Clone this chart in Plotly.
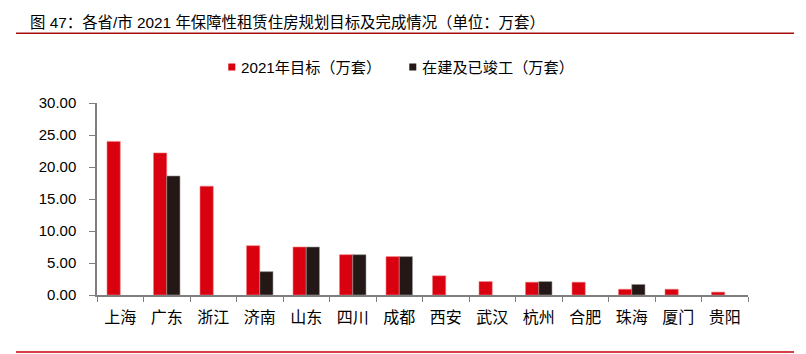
import plotly.graph_objects as go

categories = ["上海", "广东", "浙江", "济南", "山东", "四川", "成都", "西安", "武汉", "杭州", "合肥", "珠海", "厦门", "贵阳"]
target_2021 = [24.0, 22.2, 17.0, 7.7, 7.5, 6.3, 6.0, 3.0, 2.1, 2.0, 2.0, 0.9, 0.9, 0.45]
built_done = [None, 18.6, None, 3.65, 7.5, 6.3, 6.0, None, None, 2.1, None, 1.65, None, None]
y_ticks = [0, 5, 10, 15, 20, 25, 30]
y_tick_labels = ["0.00", "5.00", "10.00", "15.00", "20.00", "25.00", "30.00"]
name_target = "2021年目标（万套）"
name_built = "在建及已竣工（万套）"
title_text = "图 47：各省/市 2021 年保障性租赁住房规划目标及完成情况（单位：万套）"

RED = "#d9000f"
BLACK = "#231815"
AXIS = "#7f7f7f"
FONT = "Liberation Sans, Arial, Noto Sans CJK SC, sans-serif"

W, H = 806, 354
L, R, T, B = 97, 58, 103, 59
PW, PH = W - L - R, H - T - B


def px(x):
    return (x - L) / PW


def py(y):
    return (H - B - y) / PH


fig = go.Figure()
fig.add_trace(go.Bar(x=categories, y=target_2021, name=name_target,
                     marker=dict(color=RED, line=dict(width=0.6, color="#f08080"))))
fig.add_trace(go.Bar(x=categories, y=built_done, name=name_built,
                     marker=dict(color=BLACK, line=dict(width=0.6, color="#9a9a9a"))))

shapes = [
    dict(type="line", xref="paper", yref="paper", x0=px(16), x1=px(794), y0=py(33.3), y1=py(33.3),
         line=dict(color="#a50f0f", width=1.5)),
    dict(type="line", xref="paper", yref="paper", x0=px(16), x1=px(794), y0=py(352), y1=py(352),
         line=dict(color="#c8000a", width=1.5)),
    dict(type="rect", xref="paper", yref="paper", x0=px(228.3), x1=px(235.3), y0=py(70.5), y1=py(63.5),
         fillcolor=RED, line=dict(width=0)),
    dict(type="rect", xref="paper", yref="paper", x0=px(409.3), x1=px(416.3), y0=py(70.5), y1=py(63.5),
         fillcolor=BLACK, line=dict(width=0)),
]

annotations = [
    dict(text=title_text, xref="paper", yref="paper", x=px(27.5), y=py(22), xanchor="left", yanchor="middle",
         showarrow=False, font=dict(size=15.4, color="#000000", family=FONT)),
    dict(text=name_target, xref="paper", yref="paper", x=px(238.5), y=py(68), xanchor="left", yanchor="middle",
         showarrow=False, font=dict(size=15.2, color="#000000", family=FONT)),
    dict(text=name_built, xref="paper", yref="paper", x=px(419.5), y=py(68), xanchor="left", yanchor="middle",
         showarrow=False, font=dict(size=15.2, color="#000000", family=FONT)),
]

fig.update_layout(
    width=W, height=H,
    margin=dict(l=L, r=R, t=T, b=B, pad=0),
    paper_bgcolor="white", plot_bgcolor="white",
    barmode="group", bargap=0.43, bargroupgap=0,
    showlegend=False,
    font=dict(family=FONT, size=15, color="#000000"),
    shapes=shapes,
    annotations=annotations,
)
fig.update_xaxes(
    type="category", showgrid=False, showline=True, linecolor=AXIS, linewidth=1.5,
    ticks="outside", tickson="boundaries", ticklen=5, tickcolor=AXIS, tickwidth=1.2,
    tickfont=dict(size=16, family="Noto Sans CJK SC, sans-serif", color="#000000"),
    ticklabelstandoff=7,
)
fig.update_yaxes(
    range=[0, 30], tickvals=y_ticks, ticktext=y_tick_labels, showgrid=False, zeroline=False,
    showline=True, linecolor=AXIS, linewidth=1.5,
    ticks="outside", ticklen=6, tickcolor=AXIS, tickwidth=1.2,
    tickfont=dict(size=15, family=FONT, color="#000000"),
    ticklabelstandoff=10,
)

fig.write_html("out.html")
